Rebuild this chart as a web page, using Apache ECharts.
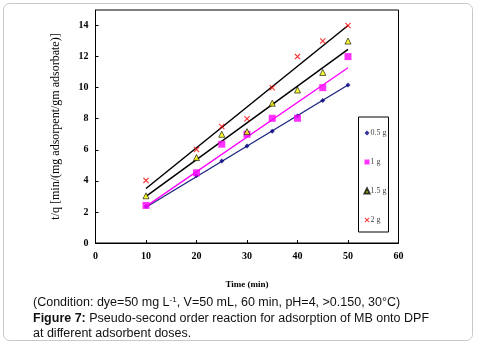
<!DOCTYPE html>
<html><head><meta charset="utf-8">
<script src="https://cdn.jsdelivr.net/npm/echarts@6/dist/echarts.min.js"></script>
<style>html,body{margin:0;padding:0;background:#fff}#c{width:477px;height:345px}</style>
</head><body><div id="c"></div>
<script>
// Data
const times = [10, 20, 25, 30, 35, 40, 45, 50];
const dose05 = [2.35, 4.35, 5.28, 6.25, 7.2, 8.18, 9.18, 10.17];
const dose1  = [2.42, 4.52, 6.36, 7.0, 8.03, 8.03, 10.0, 12.0];
const dose15 = [3.04, 5.5, 7.0, 7.17, 9.0, 9.85, 10.98, 13.0];
const dose2  = [4.03, 6.02, 7.5, 8.0, 10.0, 12.0, 13.0, 14.0];
// Trend-line endpoints (at t=10 and t=50)
const fitX = [10, 50];
const fit05 = [2.3, 10.17];
const fit1  = [2.36, 11.28];
const fit15 = [3.0, 12.46];
const fit2  = [3.51, 14.0];
const seriesNames = ['0.5 g', '1 g', '1.5 g', '2 g'];
const xTicks = {min: 0, max: 60, interval: 10};
const yTicks = {min: 0, max: 15, interval: 2};

const serif = 'Liberation Serif, Times New Roman, serif';
const sans = 'Liberation Sans, Arial, sans-serif';
const pair = (xs, ys) => xs.map((x, i) => [x, ys[i]]);
const xPath = 'path://M0,1.3L1.3,0L5,3.7L8.7,0L10,1.3L6.3,5L10,8.7L8.7,10L5,6.3L1.3,10L0,8.7L3.7,5Z';

const chart = echarts.init(document.getElementById('c'), null, {renderer: 'canvas'});
chart.setOption({
  animation: false,
  backgroundColor: '#fff',
  grid: {left: 95.5, right: 78.5, top: 10, bottom: 102, show: true, borderColor: '#000', borderWidth: 1, backgroundColor: 'transparent'},
  xAxis: {
    type: 'value', min: xTicks.min, max: xTicks.max, interval: xTicks.interval,
    name: 'Time (min)', nameLocation: 'middle', nameGap: 37,
    nameTextStyle: {fontFamily: serif, fontSize: 9, fontWeight: 'bold', color: '#000'},
    axisLine: {show: true, lineStyle: {color: '#000', width: 1}},
    axisTick: {show: true, inside: true, length: 3, lineStyle: {color: '#000'}},
    axisLabel: {fontFamily: serif, fontSize: 10, fontWeight: 'bold', color: '#000', margin: 8},
    splitLine: {show: false}
  },
  yAxis: {
    type: 'value', min: yTicks.min, max: yTicks.max, interval: yTicks.interval,
    name: 't/q [min/(mg adsorpent/gm adsorbate)]', nameLocation: 'middle', nameGap: 34,
    nameTextStyle: {fontFamily: serif, fontSize: 12, color: '#000'},
    axisLine: {show: true, lineStyle: {color: '#000', width: 1}},
    axisTick: {show: true, inside: true, length: 3, lineStyle: {color: '#000'}},
    axisLabel: {fontFamily: serif, fontSize: 10, fontWeight: 'bold', color: '#000', margin: 7, showMaxLabel: false},
    splitLine: {show: false}
  },
  legend: {
    data: seriesNames, orient: 'vertical', left: 358.5, top: 117,
    padding: [12, 2, 8, 5], itemGap: 21, itemWidth: 5, itemHeight: 5,
    borderColor: '#000', borderWidth: 1, backgroundColor: '#fff',
    textStyle: {fontFamily: serif, fontSize: 8, color: '#444', padding: [0, 0, 0, -4]}
  },
  series: [
    {name: 'fit05', type: 'line', data: pair(fitX, fit05), symbol: 'none', lineStyle: {color: '#1a237e', width: 1.3}, z: 1},
    {name: 'fit1', type: 'line', data: pair(fitX, fit1), symbol: 'none', lineStyle: {color: '#ff00ff', width: 1.3}, z: 1},
    {name: 'fit15', type: 'line', data: pair(fitX, fit15), symbol: 'none', lineStyle: {color: '#000', width: 1.5}, z: 1},
    {name: 'fit2', type: 'line', data: pair(fitX, fit2), symbol: 'none', lineStyle: {color: '#000', width: 1.5}, z: 1},
    {name: seriesNames[0], type: 'scatter', data: pair(times, dose05), symbol: 'diamond', symbolSize: 5, itemStyle: {color: '#000080'}, z: 3},
    {name: seriesNames[1], type: 'scatter', data: pair(times, dose1), symbol: 'rect', symbolSize: 7, itemStyle: {color: '#ff00ff'}, z: 3},
    {name: seriesNames[2], type: 'scatter', data: pair(times, dose15), symbol: 'triangle', symbolSize: 6, itemStyle: {color: '#ffff00', borderColor: '#000', borderWidth: 0.8}, z: 3},
    {name: seriesNames[3], type: 'scatter', data: pair(times, dose2), symbol: xPath, symbolSize: 6, itemStyle: {color: '#ff0000'}, z: 3}
  ],
  graphic: [
    {type: 'rect', shape: {x: 3.5, y: 3.5, width: 469, height: 337, r: 6}, style: {fill: 'none', stroke: '#c8c8c8', lineWidth: 1}, silent: true, z: -1},
    {type: 'text', left: 33, top: 296, style: {
      text: '{a|(Condition: dye=50 mg L}{s|-1}{a|, V=50 mL, 60 min, pH=4, >0.150, 30°C)}',
      rich: {a: {fontFamily: sans, fontSize: 12.5, fill: '#111'},
             s: {fontFamily: sans, fontSize: 8, fill: '#111', verticalAlign: 'top', padding: [0,0,6,0]}}
    }},
    {type: 'text', left: 33, top: 312, style: {
      text: '{b|Figure 7:}{a| Pseudo-second order reaction for adsorption of MB onto DPF}',
      rich: {a: {fontFamily: sans, fontSize: 12.5, fill: '#111'},
             b: {fontFamily: sans, fontSize: 12.5, fill: '#111', fontWeight: 'bold'}}
    }},
    {type: 'text', left: 33, top: 327, style: {
      text: 'at different adsorbent doses.', fontFamily: sans, fontSize: 12.5, fill: '#111'
    }}
  ]
});
</script></body></html>
